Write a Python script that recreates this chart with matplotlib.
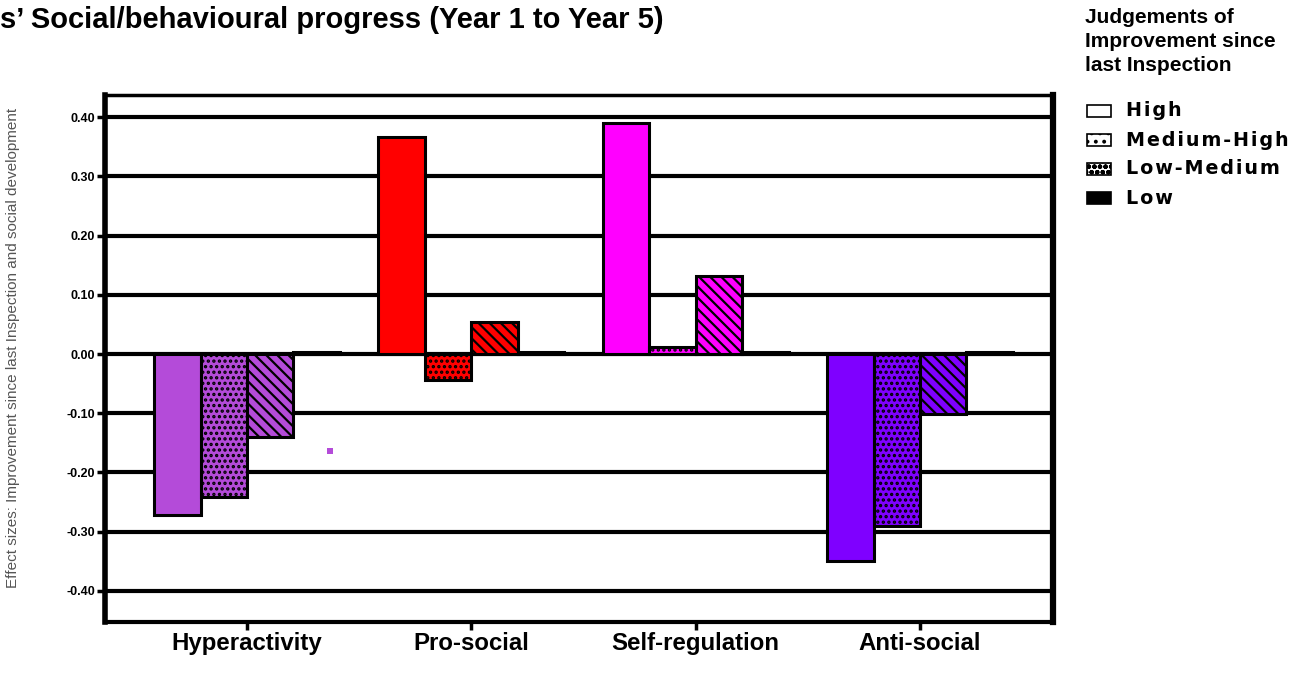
import matplotlib
matplotlib.use("Agg")
import matplotlib.pyplot as plt
from matplotlib.patches import Rectangle
import numpy as np

plt.rcParams['font.family'] = ['Liberation Sans', 'DejaVu Sans']
plt.rcParams['hatch.linewidth'] = 1.6

categories = ["Hyperactivity", "Pro-social", "Self-regulation", "Anti-social"]
levels = ["High", "Medium-High", "Low-Medium", "Low"]
# effect sizes per category, in the order High, Medium-High, Low-Medium, Low
high = [-0.272, 0.367, 0.390, -0.350]
medium_high = [-0.242, -0.044, 0.012, -0.290]
low_medium = [-0.140, 0.054, 0.132, -0.101]
low = [0.004, 0.004, 0.004, 0.004]
cat_colors = ["#B44BD9", "#FF0000", "#FF00FF", "#7F00FF"]
yticks = [0.40, 0.30, 0.20, 0.10, 0.00, -0.10, -0.20, -0.30, -0.40]
ytick_labels = ["0.40", "0.30", "0.20", "0.10", "0.00", "-0.10", "-0.20", "-0.30", "-0.40"]
# stray marker visible in the Hyperactivity group (x offset in group units, value)
stray_x = [0.37]
stray_y = [-0.164]

fig = plt.figure(figsize=(13.06, 6.84), dpi=100)
ax = fig.add_axes([105/1306, 1-622/684, (1053-105)/1306, (622-95)/684])

x = np.arange(len(categories))
w = 0.207
series = [high, medium_high, low_medium, low]
hatches = [None, '...', '\\\\\\', None]
for i, (vals, h) in enumerate(zip(series, hatches)):
    for j, v in enumerate(vals):
        fc = 'black' if i == 3 else cat_colors[j]
        ax.bar(x[j] + (i - 1.5) * w, v, width=w, color=fc, edgecolor='black',
               linewidth=2.2, hatch=h, zorder=3)

ax.scatter(stray_x, stray_y, marker='s', s=18, color=cat_colors[0], zorder=4, linewidths=0)

for yv in yticks:
    ax.axhline(yv, color='black', linewidth=3, zorder=2)

ax.set_xlim(-0.633, 3.593)
ax.set_ylim(-0.4527, 0.4375)
ax.set_yticks(yticks)
ax.set_yticklabels(ytick_labels, fontsize=9, fontweight='bold')
ax.set_xticks(x)
ax.set_xticklabels(categories, fontsize=17.3, fontweight='bold')
ax.tick_params(axis='x', length=6, width=2.5, pad=1)
ax.tick_params(axis='y', length=6, width=2.5, pad=1)
for s, lw in [('left', 4), ('right', 4.5), ('top', 2.5), ('bottom', 3)]:
    ax.spines[s].set_linewidth(lw)

ax.set_ylabel("Effect sizes: Improvement since last Inspection and social development",
              fontsize=11, color='#555555')
ax.yaxis.set_label_coords(-0.0897, 0.52)

fig.text(0.0, 1-28/684, "s\u2019 Social/behavioural progress (Year 1 to Year 5)",
         fontsize=21, fontweight='bold', ha='left', va='baseline')

fig.text(1085/1306, 1-8/684, "Judgements of\nImprovement since\nlast Inspection",
         fontsize=15, fontweight='bold', ha='left', va='top', linespacing=1.32)

leg_hatch = [None, '..', 'ooo', None]
leg_fc = ['white', 'white', 'white', 'black']
for k, lab in enumerate(levels):
    yc = 111 + k * 29
    r = Rectangle((1087/1306, 1-(yc+6)/684), 24/1306, 12/684, transform=fig.transFigure,
                  facecolor=leg_fc[k], edgecolor='black', linewidth=1.2,
                  hatch=leg_hatch[k])
    fig.patches.append(r)
    spaced = "\u200a".join(lab)
    fig.text(1126/1306, 1-yc/684, spaced, fontsize=13.8, fontweight='bold',
             ha='left', va='center', family=['DejaVu Sans'])

fig.savefig("out.png", dpi=100)
